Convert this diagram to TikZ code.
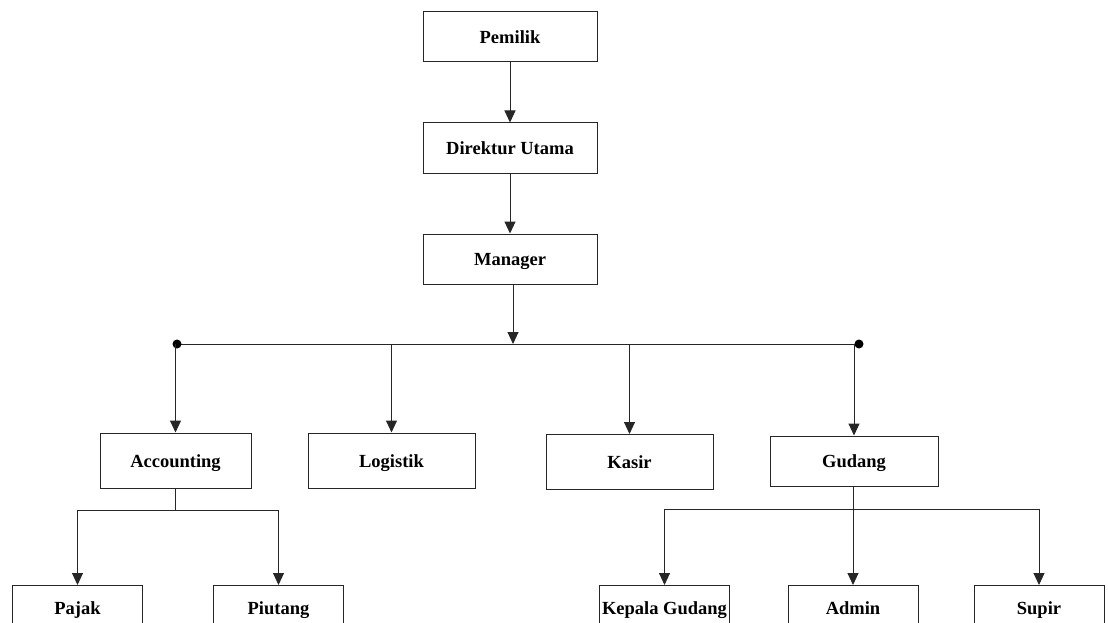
\documentclass[tikz,border=0pt]{standalone}
\usepackage{fontspec}
\setmainfont{Liberation Serif}
\usetikzlibrary{arrows.meta}
\begin{document}
\begin{tikzpicture}[x=1pt,y=-1pt,
  box/.style={draw=black!85, line width=1pt, fill=white, inner sep=0pt,
    text height=13pt, text depth=0pt,
    font=\fontsize{18.5}{21}\selectfont\bfseries, text=black},
  top/.style={box, minimum width=174pt, minimum height=50pt},
  mid/.style={box, minimum height=55pt},
  low/.style={box, minimum width=130pt, minimum height=44pt},
  link/.style={draw=black!85, line width=1pt},
  arr/.style={link, -{Triangle[width=11pt,length=12pt]}},
  dot/.style={circle, fill=black, inner sep=0pt, minimum size=9pt}]
\clip (0,0) rectangle (1108,623);
\useasboundingbox (0,0) rectangle (1108,623);

% upper chain
\node[top] (own) at (510,37) {Pemilik};
\node[top] (dir) at (510,148) {Direktur Utama};
\node[top] (mgr) at (510,259) {Manager};

% departments
\node[mid, minimum width=151pt] (acc) at (175.5,460.5) {Accounting};
\node[mid, minimum width=167pt] (log) at (391.5,460.5) {Logistik};
\node[mid, minimum width=167pt] (kas) at (629.5,462) {Kasir};
\node[box, minimum width=168pt, minimum height=50pt] (gud) at (854,461) {Gudang};

% sections
\node[low, anchor=north] (paj) at (77.5,585) {Pajak};
\node[low, anchor=north] (piu) at (278.5,585) {Piutang};
\node[low, anchor=north] (kep) at (664.5,585) {Kepala Gudang};
\node[low, anchor=north] (adm) at (853,585) {Admin};
\node[low, anchor=north] (sup) at (1039,585) {Supir};

% bus line below the manager
\coordinate (busL) at (177,344);
\coordinate (busR) at (859,344);
\coordinate (busM) at (513,344);
\draw[link] (busL) -- (busR);
\node[dot] at (busL) {};
\node[dot] at (busR) {};

\draw[arr] (own) -- (dir);
\draw[arr] (dir) -- (mgr);
\draw[arr] (mgr.south -| busM) -- (busM);

\foreach \d in {acc,log,kas,gud}
  \draw[arr] (\d.north |- busL) -- (\d.north);

% accounting split
\coordinate (accJ) at (175.5,510);
\draw[link] (acc.south) -- (accJ);
\draw[link] (paj.north |- accJ) -- (piu.north |- accJ);
\draw[arr] (paj.north |- accJ) -- (paj.north);
\draw[arr] (piu.north |- accJ) -- (piu.north);

% warehouse split
\coordinate (gudJ) at (853,509);
\draw[link] (kep.north |- gudJ) -- (sup.north |- gudJ);
\draw[arr] (gud.south -| adm.north) -- (adm.north);
\draw[arr] (kep.north |- gudJ) -- (kep.north);
\draw[arr] (sup.north |- gudJ) -- (sup.north);
\end{tikzpicture}
\end{document}
